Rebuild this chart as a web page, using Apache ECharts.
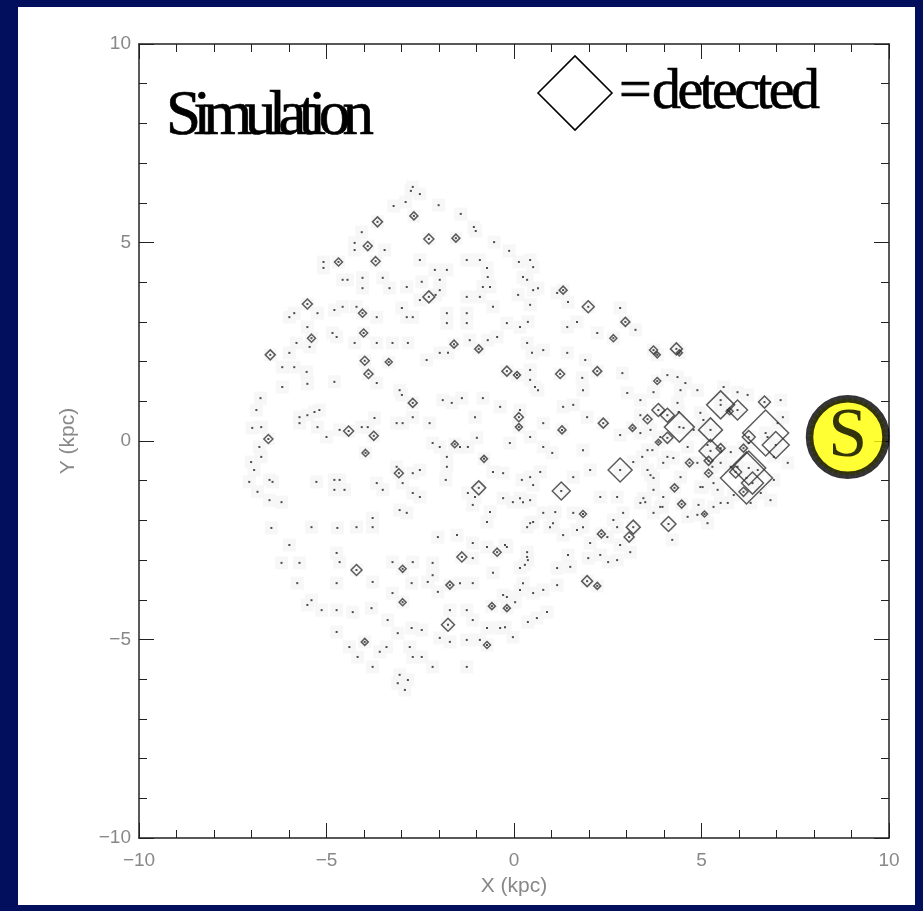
<!DOCTYPE html>
<html>
<head>
<meta charset="utf-8">
<script src="https://cdn.jsdelivr.net/npm/echarts@6/dist/echarts.min.js"></script>
<style>
  html, body { margin: 0; padding: 0; background: #020f5c; }
  #chart { width: 923px; height: 911px; }
</style>
</head>
<body>
<div id="chart"></div>
<script>
// simulated sources (kpc)
const simulated = [
  [-2.51,6.22],[-2.89,6.02],[-3.21,5.92],[-2.01,5.94],[-1.42,5.72],[-1.07,5.39],[-1.02,5.29],[-0.53,5.01],
  [-0.13,4.79],[-2.51,4.56],[-3.45,4.81],[-4.06,5.26],[-4.25,4.99],[-4.25,4.81],[-5.08,4.51],[-5.08,4.36],
  [-4.57,4.06],[-4.44,4.06],[-4.04,4.11],[-4.04,3.85],[-3.50,4.11],[-3.32,3.85],[-2.86,3.88],[-2.46,4.01],
  [-2.11,4.31],[-1.98,4.06],[-1.79,4.31],[-1.98,3.80],[-2.09,3.68],[-1.26,4.56],[-0.91,4.56],[-0.72,4.36],
  [-0.70,4.13],[-0.83,3.88],[-0.64,3.88],[0.13,4.51],[0.43,4.56],[0.24,4.13],[0.35,4.06],[0.51,3.80],
  [0.11,3.68],[-1.26,3.63],[-0.91,3.63],[-5.99,3.12],[-5.86,3.22],[-5.24,3.22],[-5.51,2.87],[-4.79,3.30],
  [-4.57,3.38],[-4.20,3.38],[-3.66,3.12],[-2.99,3.35],[-2.86,3.12],[-2.70,3.12],[-2.51,3.55],[-1.79,3.22],
  [-1.79,2.97],[-1.26,3.22],[-1.26,2.97],[-0.56,3.38],[-0.19,2.97],[0.16,2.87],[-5.80,2.47],[-5.45,2.37],
  [-5.99,2.22],[-6.18,1.86],[-5.86,1.86],[-5.53,1.74],[-4.84,2.72],[-4.73,2.62],[-4.25,2.47],[-3.66,2.47],
  [-3.24,2.47],[-2.83,2.47],[-2.33,2.04],[-1.98,2.22],[-1.76,2.22],[-1.18,2.54],[-0.70,2.54],[-0.45,2.62],
  [0.35,2.47],[0.48,2.22],[0.43,1.79],[-2.70,6.40],[-2.75,6.30],
  [-6.18,1.36],[-5.51,1.44],[-4.79,1.49],[-3.66,1.46],[-3.05,1.28],[-2.99,1.16],[-1.90,1.03],[-1.66,0.96],
  [-1.39,1.08],[-0.83,1.08],[-0.37,0.86],[0.64,1.28],[-6.76,1.08],[-5.72,0.60],[-5.51,0.65],[-5.32,0.73],
  [-5.19,0.78],[-5.72,0.45],[-5.24,0.35],[-5.00,0.10],[-4.65,0.28],[-4.06,0.35],[-3.90,0.35],[-3.72,0.58],
  [-3.13,0.45],[-2.97,0.45],[-2.70,0.60],[-2.25,0.45],[-2.17,-0.05],[-1.98,-0.15],[-1.44,-0.15],[-1.23,-0.15],
  [-1.04,0.60],[-0.99,0.08],[-0.11,-0.05],[0.43,0.10],[-6.98,0.33],[-6.74,0.35],[-6.79,-0.15],[-6.74,-0.40],
  [-7.01,-0.53],[-6.52,-0.98],[-6.44,-1.03],[-6.84,-1.28],[-6.52,-1.49],[-6.20,-1.54],[-5.27,-1.03],[-4.79,-0.98],
  [-4.65,-0.98],[-4.79,-1.23],[-4.52,-1.23],[-3.66,-1.06],[-3.50,-1.23],[-3.13,-0.65],[-2.97,-1.06],[-2.70,-0.81],
  [-2.51,-0.73],[-2.70,-1.31],[-2.51,-1.41],[-2.86,-1.81],[-3.05,-1.74],[-1.79,-0.40],[-1.79,-0.65],[-1.82,-0.98],
  [-1.23,-1.31],[-1.10,-1.61],[-1.04,-1.41],[-0.56,-0.78],[-0.29,-0.81],[-0.29,-1.44],[0.16,-1.44],[0.43,-0.91],
  [0.21,-0.98],[-0.64,-1.79],[-0.72,-2.04],[0.43,-2.07],[0.35,-2.17],[-6.47,-2.19],[-5.40,-2.17],[-4.71,-2.19],
  [-4.20,-2.17],[-3.77,-2.17],[-3.77,-1.94],[-2.03,-2.42],[-1.52,-2.37],[-1.10,-2.57],[-0.72,-2.67],[-0.19,-2.67],
  [-5.99,-2.62],[-6.20,-3.07],[-5.72,-3.07],[-4.65,-3.05],[-4.73,-2.82],[-3.24,-3.05],[-2.70,-3.05],[-2.17,-3.07],
  [-2.17,-3.38],[-1.10,-2.95],[0.35,-2.92],[0.29,-3.12],[-5.78,-3.58],[-4.73,-3.58],[-3.77,-3.55],[-3.24,-3.83],
  [-2.73,-3.58],[-2.30,-3.55],[-2.03,-3.80],[-1.44,-3.58],[-1.10,-3.58],[-0.56,-3.32],[-0.29,-3.88],[0.24,-3.58],
  [0.51,-3.83],[-5.51,-4.13],[-5.40,-4.01],[-5.13,-4.26],[-4.73,-4.26],[-4.30,-4.31],[-3.80,-4.21],[-3.37,-4.51],
  [-3.10,-4.84],[-2.73,-4.71],[-2.46,-4.76],[-1.71,-4.26],[-1.26,-4.26],[-1.10,-4.51],[-0.72,-4.71],[-0.37,-4.71],
  [-0.03,-4.94],[0.61,-4.46],[-4.73,-4.81],[-4.39,-5.19],[-4.17,-5.44],[-3.58,-5.31],[-3.40,-5.19],[-2.78,-5.19],
  [-2.70,-5.44],[-2.46,-5.44],[-1.98,-4.96],[-1.71,-5.06],[-1.26,-5.01],[-0.91,-5.01],[-3.77,-5.69],[-3.05,-5.89],
  [-2.17,-5.69],[-1.26,-5.69],[-3.10,-6.10],[-2.91,-6.27],[-2.83,-6.02],[-6.87,0.78],[-6.93,-0.73],[-7.06,-1.03],
  [0.51,4.38],[0.64,3.85],[1.15,3.73],[1.44,3.50],[1.68,3.00],[1.42,2.87],[2.22,2.72],[2.83,3.35],
  [3.24,2.80],[0.43,3.43],[0.37,3.00],[0.78,2.29],[1.42,2.22],[1.90,2.04],[1.82,1.59],[1.84,1.28],
  [2.89,1.71],[3.02,1.21],[4.09,1.66],[4.36,1.61],[4.44,1.28],[0.43,1.54],[0.56,1.36],[1.31,0.86],
  [1.58,0.91],[0.78,0.45],[0.16,0.78],[1.95,0.60],[2.83,0.15],[3.37,0.65],[3.37,0.20],[0.78,-0.15],
  [1.02,-0.30],[1.84,-0.23],[1.58,-0.91],[2.03,-0.73],[0.70,-0.78],[0.51,-1.11],[3.42,-0.40],[3.56,-0.73],
  [3.72,-0.93],[3.69,-0.23],[4.09,-0.40],[2.30,-1.41],[2.75,-1.41],[2.91,-1.81],[3.37,-1.56],[3.72,-1.81],
  [0.43,-1.49],[0.78,-1.81],[1.04,-2.07],[1.58,-1.81],[1.84,-2.17],[1.31,-2.37],[2.03,-2.57],[2.49,-2.42],
  [2.75,-2.17],[5.16,-2.07],[5.03,-1.16],[4.36,0.96],[4.97,0.71],[4.63,-0.15],[5.32,-1.06],
  [-0.24,-2.62],[0.35,-2.80],[0.37,-3.00],[0.16,-3.20],[1.15,-3.20],[1.44,-2.87],[1.50,-3.17],[1.98,-2.95],
  [2.30,-2.87],[2.51,-3.05],[2.75,-3.00],[3.10,-2.80],[2.83,-2.62],[1.68,-2.24],[0.96,-2.17],[0.51,-2.04],
  [-0.03,-1.54],[0.24,-1.54],[1.10,-1.79],[2.65,-1.99],[3.45,-1.44],[3.96,-1.66],[4.22,-2.49],[4.63,-1.91],
  [4.89,-1.86],[5.32,-1.66],[5.70,-1.56],[1.15,-3.63],[0.78,-3.75],[0.16,-3.75],[0.03,-4.06],[-0.19,-3.93],
  [-0.24,-4.69],[0.88,-4.31],[0.37,-4.56],
  [3.37,1.03],[3.72,1.23],[4.57,1.46],[4.89,1.28],[5.59,1.36],[5.96,1.23],[6.23,1.16],[7.11,1.03],
  [7.17,0.60],[5.05,0.53],[4.79,0.28],[3.90,0.10],[3.64,0.28],[3.56,-0.23],[3.18,-0.53],[3.98,-0.55],
  [4.25,-0.43],[4.89,-0.55],[5.51,-0.55],[5.78,-0.28],[5.96,-0.65],[6.50,-0.73],[6.93,-0.40],[7.30,-0.55],
  [4.44,-0.91],[3.64,-0.86],[3.72,-1.23],[3.98,-1.41],[4.97,-1.16],[5.43,-1.23],[5.86,-1.36],[6.58,-1.31],
  [6.93,-0.98],[6.84,-1.49],[6.31,-1.56],[3.50,-1.54],[3.90,-1.66],[4.92,-1.61],[5.51,-1.56],[5.16,-0.10],
  [5.29,-0.65],[5.78,-0.65],[4.52,0.33],[4.39,0.73],[6.26,-0.05],[6.76,0.10],[7.03,0.45],[5.70,0.78],[5.51,1.03]
];

// detected sources: x, y (kpc), signal (drawn as diamond size)
const detected = [
  [-6.50,2.17,10],[-6.55,0.05,9],[-4.68,4.51,8],[-3.64,5.52,10],[-2.67,5.67,8],[-2.27,5.09,10],[-1.55,5.11,8],
  [-3.90,4.91,9],[-3.69,4.53,9],[-2.27,3.63,12],[-5.51,3.45,10],[-4.04,3.22,8],[-4.01,2.72,8],[-5.40,2.59,8],
  [-1.60,2.44,8],[-0.94,2.32,8],[-3.98,2.02,9],[-3.34,1.99,7],[-3.88,1.69,9],[-0.19,1.76,10],[0.08,1.66,7],
  [-2.70,0.96,9],[0.13,0.60,9],[0.13,0.35,7],[-4.41,0.25,10],[-3.74,0.13,9],[-1.58,-0.08,7],[-3.96,-0.30,7],
  [-0.80,-0.45,7],[-3.07,-0.81,9],[-0.94,-1.18,14],[-1.39,-2.92,10],[-0.45,-2.80,8],[-4.20,-3.25,11],
  [-2.97,-3.22,7],[-1.71,-3.63,8],[-2.97,-4.06,7],[-0.59,-4.16,7],[-0.19,-4.21,7],[-1.76,-4.63,13],
  [-3.98,-5.06,7],[-0.72,-5.14,7],[1.31,3.80,8],[1.98,3.38,12],[2.97,3.00,9],[2.65,2.59,7],[3.72,2.29,8],
  [3.82,2.17,6],[4.33,2.32,12],[4.41,2.22,6],[1.23,1.69,9],[2.22,1.76,9],[3.82,1.51,7],[1.28,0.28,8],
  [2.38,0.45,10],[3.16,0.33,7],[3.56,0.55,9],[3.85,0.78,13],[4.09,0.65,14],[4.41,0.35,30],[4.09,0.08,11],
  [3.85,-0.03,6],[2.83,-0.73,24],[1.26,-1.26,18],[4.68,-0.55,8],[5.19,-0.81,8],[5.24,0.28,24],[5.24,-0.25,23],
  [5.51,-0.18,9],[5.19,-0.50,9],[4.28,-1.18,8],[4.47,-1.59,8],[1.84,-1.84,7],[4.12,-2.09,15],[3.18,-2.17,14],
  [3.07,-2.42,10],[2.33,-2.34,8],[5.08,-1.84,6],[1.95,-3.53,11],[2.22,-3.65,7],[6.68,0.98,12],[5.51,0.91,28],
  [5.96,0.78,20],[5.75,0.75,7],[6.71,0.20,46],[6.98,-0.10,27],[6.26,0.10,13],[6.12,-0.18,8],[6.20,-0.93,52],
  [6.26,-0.68,34],[6.36,-1.06,22],[5.91,-0.78,12],[6.12,-1.28,9]
];

// position of the Sun
const sunPos = [8.9, 0.1];

const axisMin = -10;
const axisMax = 10;
const majorStep = 5;

const fmtTick = (v) => String(v).replace('-', '\u2212');

// text with tight letter spacing, laid out glyph by glyph
const measureCtx = document.createElement('canvas').getContext('2d');
const tightText = (str, x, y, size, spacing) => {
  const font = size + 'px "Liberation Serif"';
  measureCtx.font = font;
  let cx = x;
  const out = [];
  for (const ch of str) {
    out.push({
      type: 'text', x: cx, y: y, z: 10,
      style: { text: ch, font: font, fill: '#000', stroke: '#000', lineWidth: 0.7, textVerticalAlign: 'middle' }
    });
    cx += measureCtx.measureText(ch).width + spacing;
  }
  return out;
};

const makeAxis = (position, showLabels, extra) => Object.assign({
  type: 'value',
  min: axisMin,
  max: axisMax,
  interval: majorStep,
  position: position,
  axisLine: { onZero: false, lineStyle: { color: '#222', width: 1.5 } },
  axisTick: { inside: true, length: 15, lineStyle: { color: '#222', width: 1 } },
  minorTick: { show: true, splitNumber: 5, length: 8, lineStyle: { color: '#222', width: 1 } },
  splitLine: { show: false },
  axisLabel: { show: showLabels }
}, extra || {});

const labelStyle = (margin) => ({
  show: true, color: '#888', fontFamily: 'Liberation Sans', fontSize: 19, margin: margin, formatter: fmtTick
});

const chart = echarts.init(document.getElementById('chart'));

chart.setOption({
  backgroundColor: '#020f5c',
  animation: false,
  graphic: [
    { type: 'rect', z: -10, shape: { x: 18, y: 7, width: 897, height: 898 }, style: { fill: '#ffffff' } },
    {
      type: 'polygon', z: 10,
      shape: { points: [[538, 93], [575, 56], [612, 93], [575, 130]] },
      style: { fill: 'none', stroke: '#000', lineWidth: 1.6 }
    }
  ].concat(
    tightText('Simulation', 166, 117, 63, -7.6),
    tightText('=', 619, 93, 58, 1),
    tightText('detected', 652, 93, 58, -3.6)
  ),
  grid: { left: 139, top: 44, width: 750, height: 794, containLabel: false },
  xAxis: [
    makeAxis('bottom', true, {
      name: 'X (kpc)', nameLocation: 'middle', nameGap: 38,
      nameTextStyle: { color: '#888', fontFamily: 'Liberation Sans', fontSize: 21 },
      axisLabel: labelStyle(13)
    }),
    makeAxis('top', false)
  ],
  yAxis: [
    makeAxis('left', true, {
      name: 'Y (kpc)', nameLocation: 'middle', nameGap: 60, nameRotate: 90,
      nameTextStyle: { color: '#888', fontFamily: 'Liberation Sans', fontSize: 21 },
      axisLabel: labelStyle(8)
    }),
    makeAxis('right', false)
  ],
  series: [
    {
      // faint grey halo around each plotted source
      type: 'scatter', silent: true, z: 1,
      data: simulated.concat(detected.map(d => [d[0], d[1]])),
      symbol: 'rect', symbolSize: 13,
      itemStyle: { color: '#f5f5f5' }
    },
    {
      type: 'scatter', silent: true, z: 3,
      data: simulated,
      symbol: 'rect', symbolSize: 2,
      itemStyle: { color: '#222' }
    },
    {
      type: 'scatter', silent: true, z: 3,
      data: detected,
      symbol: 'rect', symbolSize: 2,
      itemStyle: { color: '#222' }
    },
    {
      type: 'scatter', silent: true, z: 4,
      data: detected,
      symbol: 'diamond',
      symbolSize: (v) => v[2],
      itemStyle: { color: 'rgba(0,0,0,0)', borderColor: '#333', borderWidth: 1.5 }
    },
    {
      type: 'scatter', silent: true, z: 5,
      data: [sunPos],
      symbol: 'circle', symbolSize: 76.5,
      itemStyle: { color: '#ffff00', borderColor: '#000', borderWidth: 7.5 }
    },
    {
      type: 'scatter', silent: true, z: 6,
      data: [sunPos],
      symbol: 'circle', symbolSize: 77,
      itemStyle: { color: 'rgba(0,0,0,0)', borderColor: '#444', borderWidth: 5, borderType: [0.8, 5] },
      label: {
        show: true, position: 'inside', formatter: 'S', offset: [0, 1],
        fontFamily: 'Liberation Serif', fontSize: 70, color: '#000'
      }
    }
  ]
});
</script>
</body>
</html>
